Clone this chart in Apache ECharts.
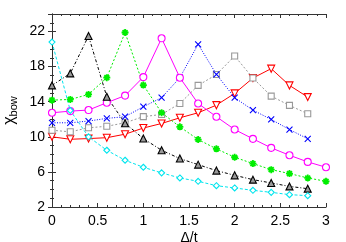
<!DOCTYPE html>
<html><head><meta charset="utf-8">
<script src="https://cdn.jsdelivr.net/npm/echarts@6/dist/echarts.min.js"></script>
<style>html,body{margin:0;padding:0;background:#fff}#c{width:346px;height:242px}</style>
</head><body><div id="c"></div>
<script>
const xs = [0,0.2,0.4,0.6,0.8,1.0,1.2,1.4,1.6,1.8,2.0,2.2,2.4,2.6,2.8,3.0];
const cyanVals = [20.8,13.0,10.0,8.47,7.33,6.53,5.89,5.31,4.93,4.43,4.17,3.9,3.67,3.41,3.29];
const blackVals = [15.86,17.23,21.5,14.57,11.55,9.8,8.47,7.52,6.83,6.15,5.61,5.12,4.74,4.35,4.09];
const greenVals = [14.18,14.26,14.83,16.74,21.89,15.9,12.74,11.14,9.69,8.63,7.67,6.95,6.26,5.81,5.31,4.93];
const magentaVals = [12.74,12.93,13.05,13.89,14.7,16.81,21.23,16.74,13.8,12.29,10.83,9.77,8.74,7.9,7.14,6.53];
const blueVals = [11.6,11.6,11.8,12.1,12.3,13.43,14.46,16.74,20.55,17.12,14.46,13.04,11.98,10.83,9.77];
const grayVals = [10.75,10.57,11.03,11.2,11.6,12.3,12.55,13.8,15.86,17.1,19.21,16.7,14.64,13.58,12.63];
const redVals = [10.0,9.72,9.8,9.9,10.3,11.0,11.52,12.17,12.74,13.61,14.95,16.7,17.77,15.86,14.53];
const xTicks = [0,0.5,1,1.5,2,2.5,3];
const yTicks = [2,6,10,14,18,22];

const pts = v => v.map((y,i)=>[xs[i],y]);
const X_PATH = 'path://M0,0L10,10M10,0L0,10';
const STAR_PATH = 'path://M5,0L5,10M0,5L10,5M1.5,1.5L8.5,8.5M8.5,1.5L1.5,8.5';

function ser(vals,color,symbol,size,fill,lineType,extra){
  return Object.assign({
    type:'line', data:pts(vals), symbol:symbol, symbolSize:size, clip:false,
    lineStyle:{color:color,width:1,type:lineType},
    itemStyle:{color:fill,borderColor:color,borderWidth:1.1},
    animation:false, z:3
  },extra||{});
}
const font = 'Liberation Sans, Arial, sans-serif';
const axisCol = '#333';
const chart = echarts.init(document.getElementById('c'),null,{renderer:'canvas'});
const baseX = {type:'value',min:0,max:3,interval:0.5,
  axisLine:{show:true,lineStyle:{color:axisCol,width:1}},
  axisTick:{show:true,inside:true,length:4,lineStyle:{color:axisCol}},
  minorTick:{show:true,splitNumber:5,length:2,lineStyle:{color:axisCol}},
  splitLine:{show:false}};
const baseY = {type:'value',min:2,max:24,interval:4,
  axisLine:{show:true,lineStyle:{color:axisCol,width:1}},
  axisTick:{show:true,inside:true,length:4,lineStyle:{color:axisCol}},
  minorTick:{show:true,splitNumber:4,length:2,lineStyle:{color:axisCol}},
  splitLine:{show:false}};
chart.setOption({
  backgroundColor:'#fff',
  grid:{left:52,right:20,top:14,bottom:35,containLabel:false,outerBoundsMode:'none'},
  xAxis:[
    Object.assign({},baseX,{position:'bottom',
      name:'Δ/t',nameLocation:'middle',nameGap:24,nameMoveOverlap:false,
      nameTextStyle:{fontFamily:font,fontSize:14,color:'#000'},
      axisLabel:{fontFamily:font,fontSize:14,color:'#000',margin:7,
        formatter:v=>xTicks.includes(v)?String(v):''}}),
    Object.assign({},baseX,{position:'top',axisLabel:{show:false}})
  ],
  yAxis:[
    Object.assign({},baseY,{position:'left',
      name:'{a|χ}{b|bow}',nameLocation:'middle',nameGap:33,nameRotate:90,nameMoveOverlap:false,
      nameTextStyle:{rich:{a:{fontFamily:font,fontSize:16,color:'#000'},b:{fontFamily:font,fontSize:11,color:'#000',padding:[7,0,0,0]}}},
      axisLabel:{fontFamily:font,fontSize:14,color:'#000',margin:7,
        formatter:v=>yTicks.includes(v)?String(v):''}}),
    Object.assign({},baseY,{position:'right',axisLabel:{show:false}})
  ],
  series:[
    ser(redVals,'#ff0000','triangle',7,'#fff','solid',{symbolRotate:180}),
    ser(grayVals,'#999999','rect',6,'#fff',[2,2]),
    ser(blueVals,'#0000ff',X_PATH,6,'none',[1,1.5]),
    ser(magentaVals,'#ff00ff','circle',7,'#fff','solid'),
    ser(greenVals,'#00ee00',STAR_PATH,7,'none',[2,2],{itemStyle:{color:'none',borderColor:'#00ee00',borderWidth:1.8}}),
    ser(blackVals,'#000000','triangle',7,'#999','dotted',{lineStyle:{color:'#000',width:1,type:[3,2,1,2]}}),
    ser(cyanVals,'#00e5ee','diamond',6,'#fff',[3,2])
  ]
});
</script></body></html>
